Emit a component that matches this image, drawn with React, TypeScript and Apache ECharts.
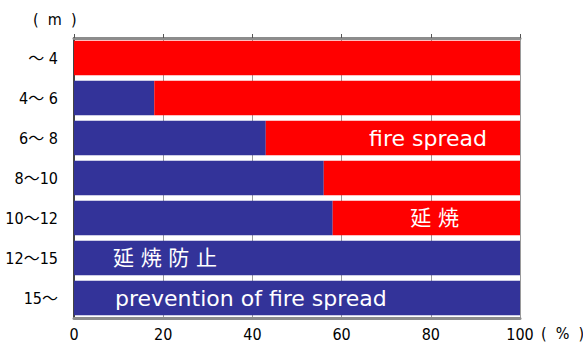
import React, { useEffect, useRef } from "react";
import * as echarts from "echarts";

// Height bands (m), top to bottom
const categories = ["～ 4", "4～ 6", "6～ 8", "8～10", "10～12", "12～15", "15～"];
// Share of cases where spread was prevented (%)
const preventedShare = [0, 18, 43, 56, 58, 100, 100];
// Share of cases where fire spread (%)
const spreadShare = [100, 82, 57, 44, 42, 0, 0];
const xTicks = [0, 20, 40, 60, 80, 100];

const BLUE = "#333399";
const RED = "#ff0000";
const FONT = "'DejaVu Sans Condensed', 'Noto Sans CJK JP', sans-serif";
const INNER_FONT = "'DejaVu Sans', 'Noto Sans CJK JP', sans-serif";

export default function App() {
  const ref = useRef<HTMLDivElement>(null);

  useEffect(() => {
    if (!ref.current) return;
    const chart = echarts.init(ref.current, undefined, { renderer: "svg" });
    const whiteLabel = (text: string, pos: string, dist: number, size = 21) => ({
      show: true,
      formatter: text,
      position: pos,
      distance: dist,
      color: "#ffffff",
      fontSize: size,
      fontFamily: INNER_FONT,
    });

    const blueData = preventedShare.map((v, i) => {
      if (i === 5) return { value: v, label: whiteLabel("延 焼 防 止", "insideLeft", 39, 21) };
      if (i === 6) return { value: v, label: whiteLabel("prevention of fire spread", "insideLeft", 41, 22) };
      return { value: v };
    });
    const redData = spreadShare.map((v, i) => {
      if (i === 2) return { value: v, label: whiteLabel("fire spread", "insideRight", 33, 22) };
      if (i === 4) return { value: v, label: whiteLabel("延 焼", "insideRight", 61, 21) };
      return { value: v };
    });

    chart.setOption({
      animation: false,
      backgroundColor: "#ffffff",
      grid: { left: 74, top: 38, width: 446, height: 280, containLabel: false },
      xAxis: [
        {
          type: "value",
          min: 0,
          max: 100,
          interval: 20,
          position: "bottom",
          axisLine: { show: true, lineStyle: { color: "#8c8c8c", width: 3 } },
          axisTick: { show: false },
          splitLine: { show: true, lineStyle: { color: "#9a9a9a", width: 1 } },
          axisLabel: {
            color: "#000",
            fontSize: 16,
            fontFamily: FONT,
            margin: 8,
            formatter: (v: number) => (xTicks.includes(v) ? String(v) : ""),
          },
        },
        {
          type: "value",
          min: 0,
          max: 100,
          interval: 20,
          position: "top",
          axisLine: { show: true, lineStyle: { color: "#8c8c8c", width: 3 } },
          axisTick: { show: true, inside: false, length: 4, lineStyle: { color: "#555", width: 1 } },
          splitLine: { show: false },
          axisLabel: { show: false },
        },
      ],
      yAxis: [
        {
          type: "category",
          data: categories,
          inverse: true,
          axisLine: { show: true, lineStyle: { color: "#000", width: 2 } },
          axisTick: { show: false },
          axisLabel: { color: "#000", fontSize: 16, fontFamily: FONT, margin: 16 },
        },
        {
          type: "category",
          data: categories,
          inverse: true,
          position: "right",
          axisLine: { show: true, lineStyle: { color: "#444", width: 2 } },
          axisTick: { show: false },
          axisLabel: { show: false },
        },
      ],
      series: [
        {
          type: "bar",
          stack: "total",
          data: blueData,
          itemStyle: { color: BLUE },
          barCategoryGap: "14%",
        },
        {
          type: "bar",
          stack: "total",
          data: redData,
          itemStyle: { color: RED },
          barCategoryGap: "14%",
        },
      ],
      graphic: [
        {
          type: "text",
          left: 33,
          top: 11,
          style: { text: "(  m  )", fontSize: 16, fontFamily: FONT, fill: "#000" },
        },
        {
          type: "text",
          left: 541,
          top: 325,
          style: { text: "(  %  )", fontSize: 16, fontFamily: FONT, fill: "#000" },
        },
      ],
    });
    return () => chart.dispose();
  }, []);

  return (
    <div
      ref={ref}
      style={{ position: "fixed", left: 0, top: 0, width: 583, height: 347 }}
    />
  );
}
